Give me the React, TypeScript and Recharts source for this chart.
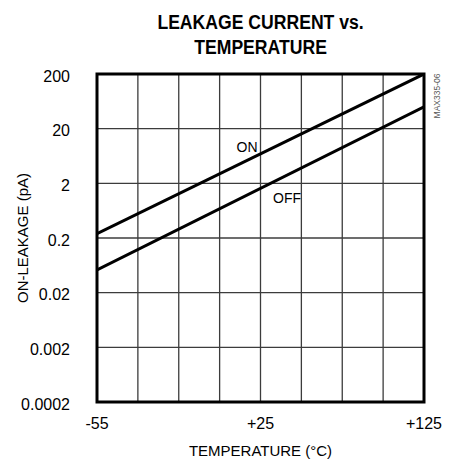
import {
  CartesianGrid,
  Line,
  LineChart,
  ReferenceArea,
  ReferenceDot,
  XAxis,
  YAxis,
} from "recharts";

// temperature (°C) grid positions and labels
const xTicks = [-55, -32.5, -10, 12.5, 35, 57.5, 80, 102.5, 125];
const xTickLabels = ["-55", "", "", "", "+25", "", "", "", "+125"];

// leakage (pA), log decades
const yTicks = [0.0002, 0.002, 0.02, 0.2, 2, 20, 200];
const yTickLabels = ["0.0002", "0.002", "0.02", "0.2", "2", "20", "200"];

const onTemps = [-55, 125];
const onLeakage = [0.24, 200];
const offTemps = [-55, 125];
const offLeakage = [0.052, 50];

const onData = onTemps.map((t, i) => ({ t, v: onLeakage[i] }));
const offData = offTemps.map((t, i) => ({ t, v: offLeakage[i] }));

const sans = "Arial, 'Liberation Sans', Helvetica, sans-serif";

export default function App() {
  return (
    <div
      style={{
        position: "absolute",
        left: 0,
        top: 0,
        width: 449,
        height: 460,
        background: "#fff",
        fontFamily: sans,
      }}
    >
      <div
        style={{
          position: "absolute",
          left: 97,
          top: 10,
          width: 327,
          textAlign: "center",
          fontFamily: sans,
          fontWeight: "bold",
          fontSize: 20,
          lineHeight: "25px",
          color: "#000",
          transform: "scaleX(0.88)",
          transformOrigin: "164px 0",
        }}
      >
        LEAKAGE CURRENT vs.
        <br />
        TEMPERATURE
      </div>
      <div
        style={{
          position: "absolute",
          left: 437,
          top: 96,
          transform: "translate(-50%, -50%) rotate(-90deg)",
          fontFamily: sans,
          fontSize: 8.5,
          color: "#555",
          whiteSpace: "nowrap",
        }}
      >
        MAX335-06
      </div>
      <LineChart width={449} height={460} margin={{ top: 74, right: 25, left: 0, bottom: 0 }}>
        <CartesianGrid stroke="#3c3c3c" strokeWidth={1.3} />
        <XAxis
          type="number"
          dataKey="t"
          domain={[-55, 125]}
          ticks={xTicks}
          interval={0}
          allowDataOverflow
          height={58}
          tickSize={0}
          tickMargin={16}
          tickLine={false}
          axisLine={false}
          tick={{ fill: "#000", fontSize: 16, fontFamily: sans }}
          tickFormatter={(_v: number, i: number) => xTickLabels[i]}
          label={{
            value: "TEMPERATURE (°C)",
            position: "insideBottom",
            offset: 4,
            fill: "#000",
            fontSize: 15,
            fontFamily: sans,
          }}
        />
        <YAxis
          type="number"
          scale="log"
          domain={[0.0002, 200]}
          ticks={yTicks}
          interval={0}
          allowDataOverflow
          width={97}
          tickSize={0}
          tickMargin={27}
          tickLine={false}
          axisLine={false}
          tick={{ fill: "#000", fontSize: 16, fontFamily: sans, dy: 2 }}
          tickFormatter={(_v: number, i: number) => yTickLabels[i]}
          label={{
            value: "ON-LEAKAGE (pA)",
            angle: -90,
            position: "insideLeft",
            offset: 23,
            fill: "#000",
            fontSize: 15,
            fontFamily: sans,
            style: { textAnchor: "middle" },
          }}
        />
        <Line
          data={onData}
          dataKey="v"
          type="linear"
          stroke="#000"
          strokeWidth={3}
          dot={false}
          isAnimationActive={false}
        />
        <Line
          data={offData}
          dataKey="v"
          type="linear"
          stroke="#000"
          strokeWidth={3}
          dot={false}
          isAnimationActive={false}
        />
        <ReferenceDot
          x={27.6}
          y={9.2}
          r={0}
          ifOverflow="visible"
          label={{ value: "ON", position: "center", fill: "#000", fontSize: 14, fontFamily: sans }}
        />
        <ReferenceDot
          x={49.6}
          y={1.08}
          r={0}
          ifOverflow="visible"
          label={{ value: "OFF", position: "center", fill: "#000", fontSize: 14, fontFamily: sans }}
        />
        <ReferenceArea
          x1={-55}
          x2={125}
          y1={0.0002}
          y2={200}
          fill="none"
          stroke="#000"
          strokeWidth={3}
          ifOverflow="visible"
        />
      </LineChart>
    </div>
  );
}
